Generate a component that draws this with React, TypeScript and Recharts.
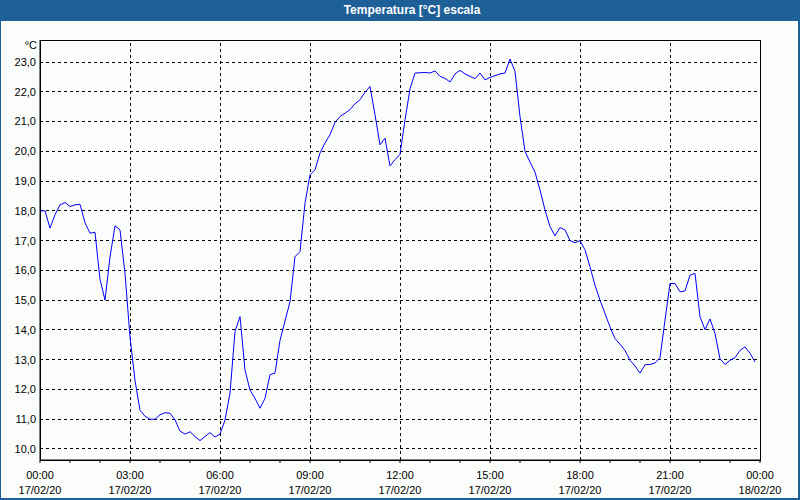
import { LineChart, Line, XAxis, YAxis, ReferenceLine, ReferenceArea } from "recharts";

// one reading every 10 minutes, 17/02/20 00:00 -> 23:50
const STEP_MIN = 10;

const tempNight = [
  18.0, 18.0, 17.42, 17.87, 18.2, 18.28,
  18.15, 18.2, 18.22, 17.6, 17.25, 17.28,
  15.7, 15.0, 16.45, 17.5, 17.36, 15.9,
  13.76, 12.3, 11.3, 11.1, 11.0, 11.0,
  11.15, 11.22, 11.2, 10.98, 10.6, 10.5,
  10.58, 10.42, 10.28, 10.42, 10.55, 10.4,
];
const tempMorning = [
  10.5, 10.97, 11.88, 13.95, 14.45, 12.65,
  11.98, 11.7, 11.37, 11.7, 12.5, 12.55,
  13.65, 14.3, 14.95, 16.46, 16.63, 18.26,
  19.21, 19.38, 19.94, 20.28, 20.56, 20.97,
  21.17, 21.28, 21.4, 21.6, 21.73, 21.98,
  22.18, 21.23, 20.22, 20.44, 19.51, 19.72,
];
const tempAfternoon = [
  19.9, 21.05, 22.1, 22.63, 22.64, 22.65,
  22.63, 22.7, 22.52, 22.45, 22.33, 22.6,
  22.72, 22.6, 22.52, 22.44, 22.63, 22.4,
  22.48, 22.54, 22.6, 22.63, 23.1, 22.69,
  21.17, 20.0, 19.64, 19.3, 18.7, 18.03,
  17.47, 17.16, 17.44, 17.36, 17.0, 16.93,
];
const tempEvening = [
  17.0, 16.69, 16.12, 15.5, 15.0, 14.55,
  14.1, 13.71, 13.52, 13.31, 12.98, 12.79,
  12.55, 12.83, 12.84, 12.89, 13.07, 14.33,
  15.56, 15.56, 15.28, 15.31, 15.84, 15.9,
  14.44, 14.01, 14.37, 13.88, 13.03, 12.84,
  12.98, 13.07, 13.31, 13.43, 13.22, 12.92,
];

const hourTicks = [0, 1, 2, 3, 4, 5, 6, 7, 8, 9, 10, 11, 12, 13, 14, 15, 16, 17, 18, 19, 20, 21, 22, 23, 24];
const gridHours = [3, 6, 9, 12, 15, 18, 21];
const timeLabels = ["00:00", "03:00", "06:00", "09:00", "12:00", "15:00", "18:00", "21:00", "00:00"];
const dateLabels = ["17/02/20", "17/02/20", "17/02/20", "17/02/20", "17/02/20", "17/02/20", "17/02/20", "17/02/20", "18/02/20"];
const tempTicks = [10, 11, 12, 13, 14, 15, 16, 17, 18, 19, 20, 21, 22, 23];

const Y_MIN = 9.63;
const Y_MAX = 23.74;

const temps = [...tempNight, ...tempMorning, ...tempAfternoon, ...tempEvening];
const data = temps.map((t, i) => ({ h: (i * STEP_MIN) / 60, t }));

const FONT = "'Liberation Sans', Arial, sans-serif";
const FRAME = "#1d6098";

function TimeTick({ x, y, payload }: any) {
  const h = payload.value;
  if (h % 3 !== 0) return <g />;
  const i = h / 3;
  return (
    <text x={x} y={y} textAnchor="middle" fill="#000" fontSize={11} fontFamily={FONT}>
      <tspan x={x} dy={16}>{timeLabels[i]}</tspan>
      <tspan x={x} dy={15}>{dateLabels[i]}</tspan>
    </text>
  );
}

export default function App() {
  return (
    <div style={{ position: "absolute", left: 0, top: 0, width: 800, height: 500, background: "#fbfdfb", fontFamily: FONT }}>
      <LineChart
        width={800}
        height={500}
        data={data}
        margin={{ top: 40, right: 40, left: 0, bottom: 0 }}
        style={{ position: "absolute", left: 0, top: 0 }}
      >
        <XAxis
          type="number"
          dataKey="h"
          domain={[0, 24]}
          ticks={hourTicks}
          interval={0}
          height={40}
          tickSize={3}
          tickMargin={0}
          axisLine={{ stroke: "#000" }}
          tickLine={{ stroke: "#000" }}
          tick={<TimeTick />}
        />
        <YAxis
          type="number"
          dataKey="t"
          domain={[Y_MIN, Y_MAX]}
          ticks={tempTicks}
          interval={0}
          width={40}
          tickSize={0}
          tickMargin={4}
          axisLine={{ stroke: "#000" }}
          tickLine={false}
          tick={{ fill: "#000", fontSize: 11, fontFamily: FONT }}
          tickFormatter={(v: number) => v.toFixed(1).replace(".", ",")}
        />
        {tempTicks.map((v) => (
          <ReferenceLine key={"y" + v} y={v} stroke="#000" strokeDasharray="3 3" shapeRendering="crispEdges" />
        ))}
        {gridHours.map((h) => (
          <ReferenceLine key={"x" + h} x={h} stroke="#000" strokeDasharray="3 3" shapeRendering="crispEdges" />
        ))}
        <ReferenceArea x1={0} x2={24} y1={Y_MIN} y2={Y_MAX} fill="none" stroke="#000" strokeWidth={1} shapeRendering="crispEdges" />
        <Line
          type="linear"
          dataKey="t"
          stroke="#0000ff"
          strokeWidth={1}
          dot={false}
          isAnimationActive={false}
        />
      </LineChart>

      <div
        style={{
          position: "absolute", left: 0, top: 0, width: 800, height: 21, background: FRAME,
          color: "#fff", fontWeight: "bold", fontSize: 12, lineHeight: "21px", textAlign: "center",
          paddingLeft: 24, boxSizing: "border-box",
        }}
      >
        Temperatura [°C] escala
      </div>
      <div style={{ position: "absolute", left: 0, top: 39, width: 37, textAlign: "right", fontSize: 11, lineHeight: "13px", color: "#000" }}>
        °C
      </div>
      <div style={{ position: "absolute", left: 0, top: 0, width: 1, height: 500, background: FRAME }} />
      <div style={{ position: "absolute", left: 798, top: 0, width: 2, height: 500, background: FRAME }} />
      <div style={{ position: "absolute", left: 0, top: 498, width: 800, height: 2, background: FRAME }} />
    </div>
  );
}
